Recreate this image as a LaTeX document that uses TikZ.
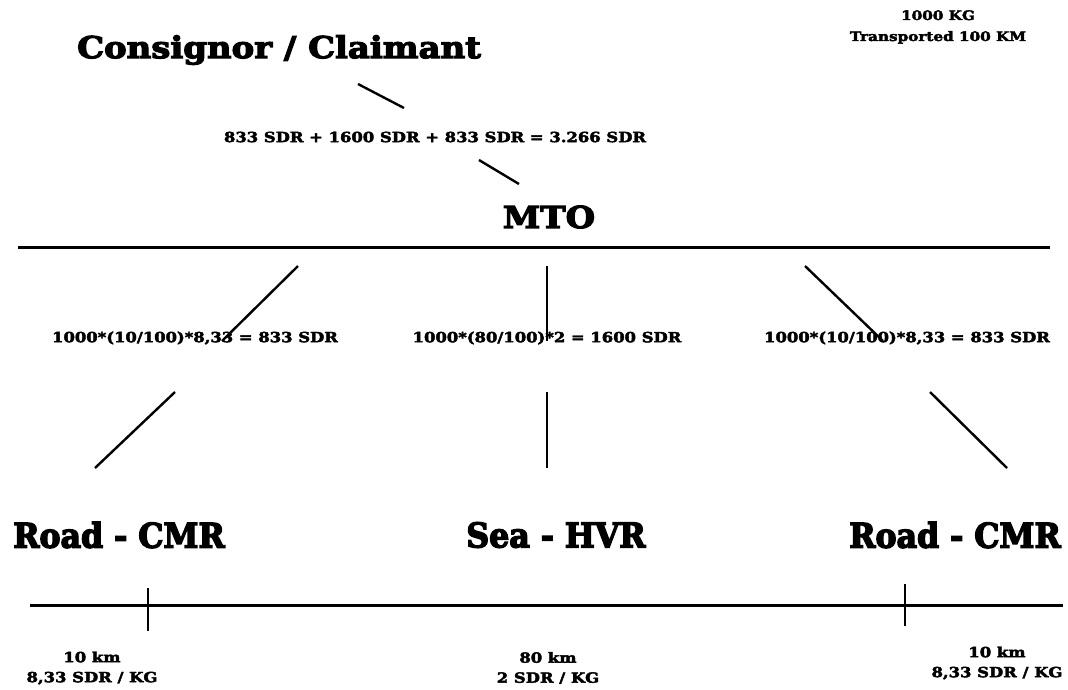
\documentclass[tikz,border=0pt]{standalone}
\usepackage{fontspec}
% heavy slab serif faces at three set widths
\newfontfamily\heavy{DejaVu Serif}[UprightFont={* Bold}, FakeBold=3, FakeStretch=1.17]
\newfontfamily\heavyhead{DejaVu Serif}[UprightFont={* Bold}, FakeBold=4, FakeStretch=1.13]
\newfontfamily\heavytitle{DejaVu Serif}[UprightFont={* Bold}, FakeBold=4, FakeStretch=0.93]
\tikzset{
  lbl/.style={font=\heavy\fontsize{14}{20}\selectfont, align=center, inner sep=0pt},
  title/.style={font=\heavytitle\fontsize{34}{40}\selectfont, inner sep=0pt},
  link/.style={line width=2.4pt},
  rule/.style={line width=3pt},
  tick/.style={line width=1.8pt}
}
\begin{document}
\begin{tikzpicture}[x=1pt,y=-1pt]
\useasboundingbox (0,0) rectangle (1068,689);
% header
\node[inner sep=0pt, font=\heavyhead\fontsize{30}{34}\selectfont] (cons) at (279,50) {Consignor / Claimant};
\node[lbl, font=\heavy\fontsize{13}{21}\selectfont] (cargo) at (938,27) {1000 KG\\Transported 100 KM};
\node[lbl] (sum) at (435,137) {833 SDR + 1600 SDR + 833 SDR = 3.266 SDR};
\node[inner sep=0pt, font=\heavyhead\fontsize{30}{34}\selectfont] (mto) at (549,217) {MTO};
\coordinate (c1) at (358,84);  \coordinate (c2) at (404,108);
\coordinate (m1) at (479,160); \coordinate (m2) at (519,184);
\draw[link] (c1) -- (c2);
\draw[link] (m1) -- (m2);
% MTO bar
\coordinate (barL) at (18,247); \coordinate (barR) at (1050,247);
\draw[rule] (barL) -- (barR);
% leg calculations
\node[lbl] (calcL) at (195,338) {1000*(10/100)*8,33 = 833 SDR};
\node[lbl] (calcM) at (547,338) {1000*(80/100)*2 = 1600 SDR};
\node[lbl] (calcR) at (907,338) {1000*(10/100)*8,33 = 833 SDR};
\coordinate (aL1) at (298,266); \coordinate (aL2) at (222,341);
\coordinate (aM1) at (547,266); \coordinate (aM2) at (547,341);
\coordinate (aR1) at (805,266); \coordinate (aR2) at (883,341);
\coordinate (bL1) at (175,392); \coordinate (bL2) at (95,468);
\coordinate (bM1) at (547,392); \coordinate (bM2) at (547,468);
\coordinate (bR1) at (930,392); \coordinate (bR2) at (1007,468);
\foreach \p in {aL,aM,aR,bL,bM,bR} \draw[link] (\p1) -- (\p2);
% modes
\node[title] (roadL) at (119,535) {Road - CMR};
\node[title] (sea) at (556,535) {Sea - HVR};
\node[title] (roadR) at (955,535) {Road - CMR};
% distance line
\coordinate (dL) at (30,605); \coordinate (dR) at (1063,605);
\draw[rule] (dL) -- (dR);
\coordinate (t1a) at (148,588); \coordinate (t1b) at (148,631);
\coordinate (t2a) at (905,584); \coordinate (t2b) at (905,626);
\draw[tick] (t1a) -- (t1b);
\draw[tick] (t2a) -- (t2b);
% distances and rates
\node[lbl] (kmL) at (92,668) {10 km\\8,33 SDR / KG};
\node[lbl] (kmM) at (548,668) {80 km\\2 SDR / KG};
\node[lbl] (kmR) at (997,663) {10 km\\8,33 SDR / KG};
\end{tikzpicture}
\end{document}
